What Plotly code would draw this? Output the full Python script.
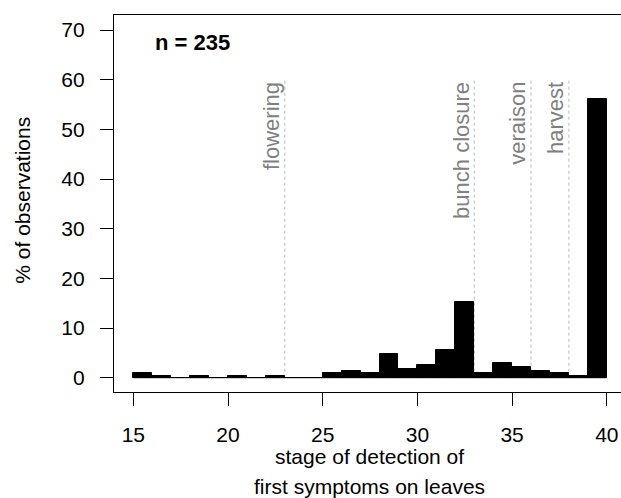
import plotly.graph_objects as go

# histogram bins (left edges, width 1) and counts
bin_left = list(range(15, 40))
counts = [2, 1, 0, 1, 0, 1, 0, 1, 0, 0, 2, 3, 2, 11, 4, 6, 13, 36, 2, 7, 5, 3, 2, 1, 132]
n_obs = 235
pct = [c / n_obs * 100 for c in counts]

# phenological stages
stage_x = [23, 33, 36, 38]
stage_labels = ["flowering", "bunch closure", "veraison", "harvest"]
stage_top = 60

x_ticks = [15, 20, 25, 30, 35, 40]
y_ticks = [0, 10, 20, 30, 40, 50, 60, 70]

FONT = "Liberation Sans, Arial, Helvetica, sans-serif"

L, R, T, B = 114, 0, 15, 106
W, H = 621, 498
pw, ph = W - L - R, H - T - B


def px_x(x):
    return (x - L) / pw


def px_y(y):
    return 1 - (y - T) / ph


fig = go.Figure()
fig.add_trace(go.Bar(
    x=[b + 0.5 for b in bin_left], y=pct, width=1,
    marker=dict(color="black", line=dict(color="black", width=1)),
    showlegend=False, hoverinfo="skip",
))
# baseline drawn by the zero-height bins
fig.add_trace(go.Scatter(
    x=[bin_left[0], bin_left[-1] + 1], y=[0, 0], mode="lines",
    line=dict(color="black", width=1), showlegend=False, hoverinfo="skip",
))

for sx, lab in zip(stage_x, stage_labels):
    fig.add_shape(type="line", xref="x", yref="y", x0=sx, x1=sx, y0=0, y1=stage_top,
                  line=dict(color="#b8b8b8", width=1, dash="dot"), layer="below")
    fig.add_annotation(x=sx, y=stage_top, xref="x", yref="y", text=lab, textangle=-90,
                       showarrow=False, xanchor="right", yanchor="top", xshift=1,
                       font=dict(family=FONT, size=22, color="#808080"))

fig.add_annotation(x=18.1, y=67.4, xref="x", yref="y", text=f"<b>n = {n_obs}</b>",
                   showarrow=False, xanchor="center", yanchor="middle",
                   font=dict(family=FONT, size=22, color="black"))

# axis titles
fig.add_annotation(x=px_x(21.7), y=px_y(200), xref="paper", yref="paper",
                   text="% of observations", textangle=-90, showarrow=False,
                   xanchor="center", yanchor="middle",
                   font=dict(family=FONT, size=21, color="black"))
fig.add_annotation(x=px_x(369), y=px_y(456), xref="paper", yref="paper",
                   text="stage of detection of", showarrow=False,
                   xanchor="center", yanchor="middle",
                   font=dict(family=FONT, size=21, color="black"))
fig.add_annotation(x=px_x(369), y=px_y(486), xref="paper", yref="paper",
                   text="first symptoms on leaves", showarrow=False,
                   xanchor="center", yanchor="middle",
                   font=dict(family=FONT, size=21, color="black"))

fig.update_layout(
    width=W, height=H,
    margin=dict(l=L, r=R, t=T, b=B, pad=0),
    paper_bgcolor="white", plot_bgcolor="white",
    font=dict(family=FONT, size=20, color="black"),
    bargap=0,
    xaxis=dict(range=[13.98, 40.75], tickmode="array", tickvals=x_ticks,
               showgrid=False, zeroline=False, showline=True, mirror=True,
               linecolor="black", linewidth=1.3, ticks="outside", ticklen=13,
               tickwidth=1.3, tickcolor="black", ticklabelstandoff=11,
               tickfont=dict(family=FONT, size=21)),
    yaxis=dict(range=[-2.88, 73.02], tickmode="array", tickvals=y_ticks,
               showgrid=False, zeroline=False, showline=True, mirror=False,
               linecolor="black", linewidth=1.3, ticks="outside", ticklen=13,
               tickwidth=1.3, tickcolor="black", ticklabelstandoff=11,
               tickfont=dict(family=FONT, size=21)),
)

fig.write_html("out.html")
